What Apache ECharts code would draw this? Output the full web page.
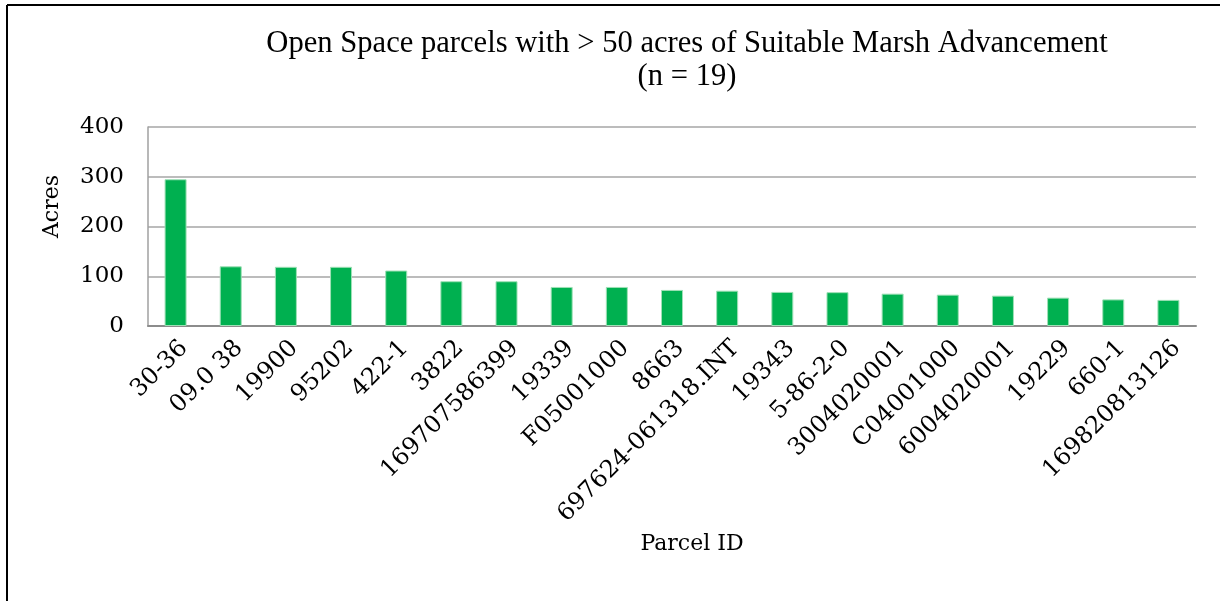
<!DOCTYPE html>
<html>
<head>
<meta charset="utf-8">
<script src="https://cdn.jsdelivr.net/npm/echarts@6/dist/echarts.min.js"></script>
<style>
  html, body { margin: 0; padding: 0; background: #fff; }
  #chart { width: 1220px; height: 601px; }
</style>
</head>
<body>
<div id="chart"></div>
<script>
// parcel ids and acres
const parcels = ['30-36', '09.0 38', '19900', '95202', '422-1', '3822', '169707586399', '19339',
  'F05001000', '8663', '697624-061318.INT', '19343', '5-86-2-0', '3004020001', 'C04001000',
  '6004020001', '19229', '660-1', '169820813126'];
const acres = [295, 120, 119, 119, 111.5, 90, 90, 78.5, 78.5, 72.5, 71, 68.5, 68, 65, 63, 61, 57, 53.5, 52.5];
const yTicks = [0, 100, 200, 300, 400];

const serif = 'DejaVu Serif';

var myChart = echarts.init(document.getElementById('chart'));
myChart.setOption({
  animation: false,
  backgroundColor: '#fff',
  title: {
    text: 'Open Space parcels with > 50 acres of Suitable Marsh Advancement\n(n = 19)',
    left: 682,
    top: 22,
    textAlign: 'center',
    textStyle: {
      fontFamily: 'Liberation Serif',
      fontWeight: 'normal',
      fontSize: 30.6,
      lineHeight: 33,
      color: '#000'
    }
  },
  graphic: [
    { type: 'line', shape: { x1: 7, y1: 5, x2: 1220, y2: 5 }, style: { stroke: '#000', lineWidth: 2 } },
    { type: 'line', shape: { x1: 7, y1: 5, x2: 7, y2: 601 }, style: { stroke: '#000', lineWidth: 2 } }
  ],
  grid: {
    left: 148,
    right: 24,
    top: 127,
    bottom: 275
  },
  xAxis: {
    type: 'category',
    data: parcels,
    name: 'Parcel ID',
    nameLocation: 'middle',
    nameGap: 207,
    nameTextStyle: {
      fontFamily: serif,
      fontSize: 22,
      color: '#000',
      padding: [0, 0, 0, 40]
    },
    axisLine: { lineStyle: { color: '#8c8c8c', width: 2 } },
    axisTick: { show: false },
    axisLabel: {
      interval: 0,
      rotate: 45,
      margin: 10,
      verticalAlign: 'top',
      fontFamily: serif,
      fontSize: 24,
      color: '#000'
    }
  },
  yAxis: {
    type: 'value',
    min: yTicks[0],
    max: yTicks[yTicks.length - 1],
    interval: 100,
    name: 'Acres',
    nameLocation: 'middle',
    nameGap: 85,
    nameTextStyle: {
      fontFamily: serif,
      fontSize: 22,
      color: '#000',
      padding: [0, 0, 0, 40]
    },
    axisLine: { show: true, lineStyle: { color: '#a0a0a0', width: 1.5 } },
    axisTick: { show: false },
    axisLabel: {
      margin: 24,
      fontFamily: serif,
      fontSize: 23,
      color: '#000'
    },
    splitLine: { lineStyle: { color: '#a6a6a6', width: 1.5 } }
  },
  series: [
    {
      type: 'bar',
      data: acres,
      barWidth: 22,
      itemStyle: {
        color: '#00b050',
        borderColor: '#9fe0b6',
        borderWidth: 1
      }
    }
  ]
});
</script>
</body>
</html>
